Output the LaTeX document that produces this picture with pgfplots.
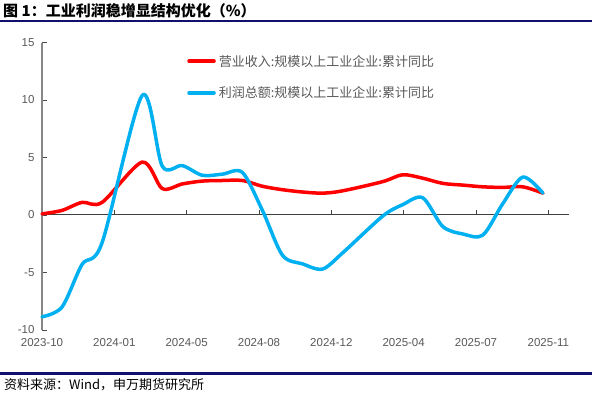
\documentclass[border=0pt]{standalone}
\usepackage{pgfplots}
\usepackage{pgfplotstable}
\pgfplotsset{compat=1.18}
\usepackage{fontspec}
\setmainfont{Liberation Sans}
\newfontfamily\cjk{Noto Sans CJK SC}
\definecolor{navy}{RGB}{16,16,110}
\definecolor{tickgray}{RGB}{89,89,89}
\definecolor{axgray}{RGB}{134,134,134}
\definecolor{cred}{RGB}{255,0,0}
\definecolor{cblue}{RGB}{0,176,240}

% x = month index (0 = first point); January values are absent in the source
\pgfplotstableread{
x v
0 0.1
1 0.4
2 1.1
3 1.1
5 4.6
6 2.3
7 2.7
8 2.95
9 3.0
10 3.0
11 2.5
12 2.2
13 2.0
14 1.9
15 2.1
17 2.9
18 3.5
19 3.2
20 2.75
21 2.6
22 2.45
23 2.4
24 2.45
25 1.9
}\revtable

\pgfplotstableread{
x v
0 -8.85
1 -8.0
2 -4.3
3 -2.4
5 10.4
6 4.25
7 4.3
8 3.45
9 3.55
10 3.7
11 0.4
12 -3.5
13 -4.25
14 -4.7
15 -3.3
17 -0.1
18 0.9
19 1.5
20 -1.0
21 -1.65
22 -1.75
23 1.0
24 3.3
25 1.9
}\proftable

\begin{document}
\begin{tikzpicture}
\useasboundingbox (0pt,0pt) rectangle (592pt,397pt);
\node[anchor=west, inner sep=0pt, font=\cjk\bfseries\fontsize{15}{17}\selectfont] at (3pt,386pt) {图 1：工业利润稳增显结构优化（\%）};
\fill[navy] (0pt,374.5pt) rectangle (592pt,376.5pt);
\fill[navy] (0pt,22pt) rectangle (592pt,25pt);
\node[anchor=west, inner sep=0pt, font=\cjk\fontsize{13}{15}\selectfont] at (4pt,12pt) {资料来源：Wind，申万期货研究所};

% zero line with its tick marks
\begin{axis}[
  at={(42pt,67pt)}, anchor=south west, scale only axis,
  width=527pt, height=287.5pt,
  xmin=0, xmax=26.3, ymin=-10, ymax=15,
  axis x line=middle, axis y line=none,
  x axis line style={-, draw=black!75, line width=1pt},
  xtick={3.61,7.22,10.83,14.44,18.05,21.66,25.27},
  xticklabels={}, ytick=\empty,
  x tick style={draw=black!75, line width=0.8pt},
  tick align=inside, major tick length=5pt,
]
\end{axis}

\begin{axis}[
  at={(42pt,67pt)}, anchor=south west, scale only axis,
  width=527pt, height=287.5pt,
  xmin=0, xmax=26.3, ymin=-10, ymax=15,
  axis x line*=bottom, axis y line*=left,
  x axis line style={draw=none},
  y axis line style={-, draw=axgray, line width=1.5pt},
  xtick={0,3.61,7.22,10.83,14.44,18.05,21.66,25.27},
  xticklabels={2023-10,2024-01,2024-05,2024-08,2024-12,2025-04,2025-07,2025-11},
  x tick style={draw=none},
  ytick={-10,-5,0,5,10,15},
  y tick style={draw=black!70, line width=0.8pt},
  tick align=inside, major tick length=5pt,
  ticklabel style={font=\fontsize{11.5}{13}\selectfont, text=tickgray},
  /pgf/number format/assume math mode=true,
  xticklabel style={yshift=-5pt},
  yticklabel style={xshift=-4pt},
  clip=false,
  legend cell align=left,
  legend image code/.code={\draw[#1, line width=3.5pt] (0pt,0pt) -- (25pt,0pt);},
  legend style={draw=none, fill=none, inner sep=0pt, outer sep=0pt,
    at={(axis cs:7.25,14.09)}, anchor=north west,
    font=\cjk\fontsize{13}{15}\selectfont, text=tickgray,
    row sep=15pt, column sep=1pt, nodes={inner sep=2pt}},
]
\addplot[cred, line width=3.5pt, smooth, line join=round, line cap=round] table[x=x,y=v] {\revtable};
\addlegendentry{营业收入:规模以上工业企业:累计同比}
\addplot[cblue, line width=3.5pt, smooth, line join=round, line cap=round] table[x=x,y=v] {\proftable};
\addlegendentry{利润总额:规模以上工业企业:累计同比}
\end{axis}
\end{tikzpicture}
\end{document}
